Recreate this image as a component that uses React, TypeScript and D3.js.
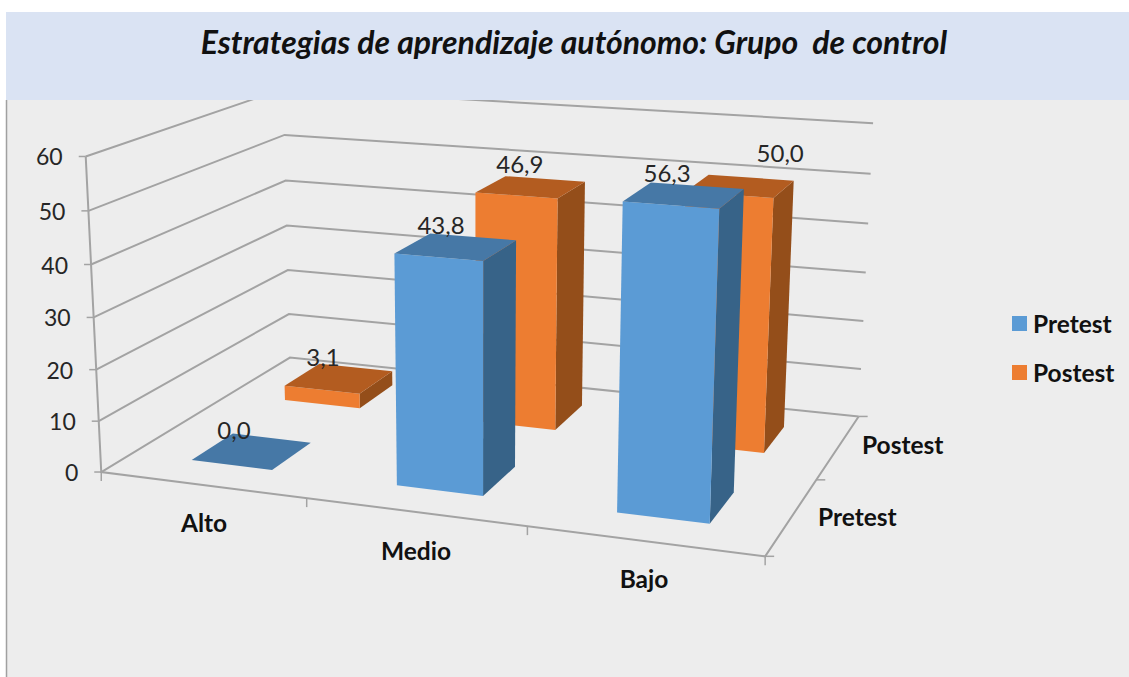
import React from "react";
import * as d3 from "d3";

const categories = ["Alto", "Medio", "Bajo"];
const seriesNames = ["Pretest", "Postest"];
const pretestValues = [0.0, 43.8, 56.3];
const postestValues = [3.1, 46.9, 50.0];
const valueTicks = [0, 10, 20, 30, 40, 50, 60];
const formatValue = (v: number) => v.toFixed(1).replace(".", ",");

const W = 1129;
const H = 677;

// camera calibration: (u, d, v) -> screen anchor
const anchors: number[][] = [
  [0, 0, 0, 101, 472],
  [1, 0, 0, 765, 557],
  [0, 1, 0, 290, 358],
  [1, 1, 0, 859, 415],
  [0, 0, 1, 86, 156],
  [0, 1, 1, 283, 89],
  [1, 1, 1, 873, 123],
  [1 / 3, 0, 0, 307, 498],
  [2 / 3, 0, 0, 527, 527],
  [1, 0.5, 0, 816, 479],
  [0, 0, 0.5, 94, 317],
  [1, 1, 0.5, 866, 274],
];

function fitCamera(): number[] {
  const rows: number[][] = [];
  const rhs: number[] = [];
  for (const [u, d, v, x, y] of anchors) {
    rows.push([u, d, v, 1, 0, 0, 0, 0, -x * u, -x * d, -x * v]);
    rhs.push(x);
    rows.push([0, 0, 0, 0, u, d, v, 1, -y * u, -y * d, -y * v]);
    rhs.push(y);
  }
  const n = 11;
  const A: number[][] = [];
  for (let i = 0; i < n; i++) {
    const r: number[] = [];
    for (let j = 0; j < n; j++) r.push(d3.sum(rows, (row) => row[i] * row[j]));
    r.push(d3.sum(rows, (row, k) => row[i] * rhs[k]));
    A.push(r);
  }
  for (let i = 0; i < n; i++) {
    let p = i;
    for (let k = i + 1; k < n; k++) if (Math.abs(A[k][i]) > Math.abs(A[p][i])) p = k;
    [A[i], A[p]] = [A[p], A[i]];
    for (let k = 0; k < n; k++) {
      if (k === i) continue;
      const f = A[k][i] / A[i][i];
      for (let j = i; j <= n; j++) A[k][j] -= f * A[i][j];
    }
  }
  return A.map((r, i) => r[n] / r[i]);
}

const cam = fitCamera();
const project = (u: number, d: number, v: number): [number, number] => {
  const w = cam[8] * u + cam[9] * d + cam[10] * v + 1;
  return [
    (cam[0] * u + cam[1] * d + cam[2] * v + cam[3]) / w,
    (cam[4] * u + cam[5] * d + cam[6] * v + cam[7]) / w,
  ];
};

const uScale = d3.scaleBand<string>().domain(categories).range([0, 1]).paddingInner(0.6).paddingOuter(0.3);
const dScale = d3.scaleBand<string>().domain(seriesNames).range([0, 1]).paddingInner(0.58).paddingOuter(0.29);
const vScale = d3.scaleLinear().domain([0, 60]).range([0, 1]);

const line = d3.line<[number, number]>();
const poly = (pts: [number, number][]) => line(pts) + "Z";

const palette = [
  { front: "#5b9bd5", top: "#4678a6", side: "#376388" },
  { front: "#ed7d31", top: "#b35c20", side: "#944e1a" },
];

const GRID = "#a3a3a3";
const TEXT = "#262626";
const BODY = "Lato, Carlito, 'Open Sans', sans-serif";

// label offsets from the top centre of each bar
const labelOffsets: [number, number][][] = [
  [[-18, -20], [-15, -21], [-17, -21]],
  [[-16, -20], [-11, -22], [40, -32]],
];

function Bar({ cat, series, seriesIndex, value }: { cat: string; series: string; seriesIndex: number; value: number }) {
  const u0 = uScale(cat)!;
  const u1 = u0 + uScale.bandwidth();
  const d0 = dScale(series)!;
  const d1 = d0 + dScale.bandwidth();
  const v = vScale(value);
  const c = palette[seriesIndex];
  const top = poly([project(u0, d0, v), project(u1, d0, v), project(u1, d1, v), project(u0, d1, v)]);
  if (value === 0) return <path d={top} fill={c.top} />;
  return (
    <g>
      <path d={poly([project(u1, d0, 0), project(u1, d1, 0), project(u1, d1, v), project(u1, d0, v)])} fill={c.side} />
      <path d={poly([project(u0, d0, 0), project(u1, d0, 0), project(u1, d0, v), project(u0, d0, v)])} fill={c.front} />
      <path d={top} fill={c.top} />
    </g>
  );
}

export default function App() {
  const seriesValues = [pretestValues, postestValues];
  const catTicks = [0, 1 / 3, 2 / 3, 1];
  const depthTicks = [0, 0.5, 1];
  const catLabelPos: [number, number][] = [[204, 532], [416, 560], [644, 588]];
  const depthLabelPos: [number, number][] = [[818, 526], [862, 454]];
  return (
    <svg
      width={W}
      height={H}
      viewBox={`0 0 ${W} ${H}`}
      style={{ position: "absolute", left: 0, top: 0, display: "block", background: "#ffffff" }}
    >
      <rect x={6} y={12} width={W - 6} height={H - 12} fill="#ededed" />
      <line x1={6.5} x2={6.5} y1={100} y2={H} stroke="#a0a0a0" strokeWidth={1.5} />

      {/* walls */}
      {valueTicks.map((t) => {
        const v = vScale(t);
        return (
          <g key={t}>
            <path
              d={line([project(0, 0, v), project(0, 1, v), project(1, 1, v)])!}
              fill="none"
              stroke={GRID}
              strokeWidth={2}
            />
            <line
              x1={project(0, 0, v)[0] - 7}
              x2={project(0, 0, v)[0]}
              y1={project(0, 0, v)[1]}
              y2={project(0, 0, v)[1]}
              stroke={GRID}
              strokeWidth={1.5}
            />
            <text
              x={project(0, 0, v)[0] - 23}
              y={project(0, 0, v)[1] + 9}
              textAnchor="end"
              fontFamily={BODY}
              fontSize={23}
              fill={TEXT}
            >
              {t}
            </text>
          </g>
        );
      })}
      <path d={line([project(0, 0, 1), project(0, 0, 0), project(1, 0, 0), project(1, 1, 0)])!} fill="none" stroke={GRID} strokeWidth={2} />
      {catTicks.map((t) => (
        <line key={t} x1={project(t, 0, 0)[0]} x2={project(t, 0, 0)[0]} y1={project(t, 0, 0)[1]} y2={project(t, 0, 0)[1] + 9} stroke={GRID} strokeWidth={1.5} />
      ))}
      {depthTicks.map((t) => (
        <line key={t} x1={project(1, t, 0)[0]} x2={project(1, t, 0)[0] + 9} y1={project(1, t, 0)[1]} y2={project(1, t, 0)[1]} stroke={GRID} strokeWidth={1.5} />
      ))}

      {/* bars, back to front */}
      {[1, 0].map((si) =>
        categories.map((cat, ci) => (
          <Bar key={si + cat} cat={cat} series={seriesNames[si]} seriesIndex={si} value={seriesValues[si][ci]} />
        ))
      )}

      {/* value labels */}
      {[1, 0].map((si) =>
        categories.map((cat, ci) => {
          const p = project(
            uScale(cat)! + uScale.bandwidth() / 2,
            dScale(seriesNames[si])! + dScale.bandwidth() / 2,
            vScale(seriesValues[si][ci])
          );
          const o = labelOffsets[si][ci];
          return (
            <text key={si + cat} x={p[0] + o[0]} y={p[1] + o[1] + 8} textAnchor="middle" fontFamily={BODY} fontSize={24} fill={TEXT}>
              {formatValue(seriesValues[si][ci])}
            </text>
          );
        })
      )}

      {categories.map((c, i) => (
        <text key={c} x={catLabelPos[i][0]} y={catLabelPos[i][1]} textAnchor="middle" fontFamily={BODY} fontWeight={700} fontSize={24.5} fill="#111">
          {c}
        </text>
      ))}
      {seriesNames.map((s, i) => (
        <text key={s} x={depthLabelPos[i][0]} y={depthLabelPos[i][1]} fontFamily={BODY} fontWeight={700} fontSize={24.5} fill="#111">
          {s}
        </text>
      ))}

      {/* legend */}
      {seriesNames.map((s, i) => (
        <g key={s}>
          <rect x={1012} y={316 + i * 49} width={15} height={15} fill={palette[i].front} />
          <text x={1033} y={333 + i * 49} fontFamily={BODY} fontWeight={700} fontSize={24.5} fill="#111">
            {s}
          </text>
        </g>
      ))}

      {/* title band */}
      <rect x={6} y={12} width={W - 6} height={88} fill="#dae3f3" />
      <text
        x={574}
        y={54}
        textAnchor="middle"
        fontFamily={BODY}
        fontWeight={700}
        fontStyle="italic"
        fontSize={32}
        fill="#111"
        style={{ whiteSpace: "pre" }}
      >
        {"Estrategias de aprendizaje autónomo: Grupo  de control"}
      </text>
    </svg>
  );
}
